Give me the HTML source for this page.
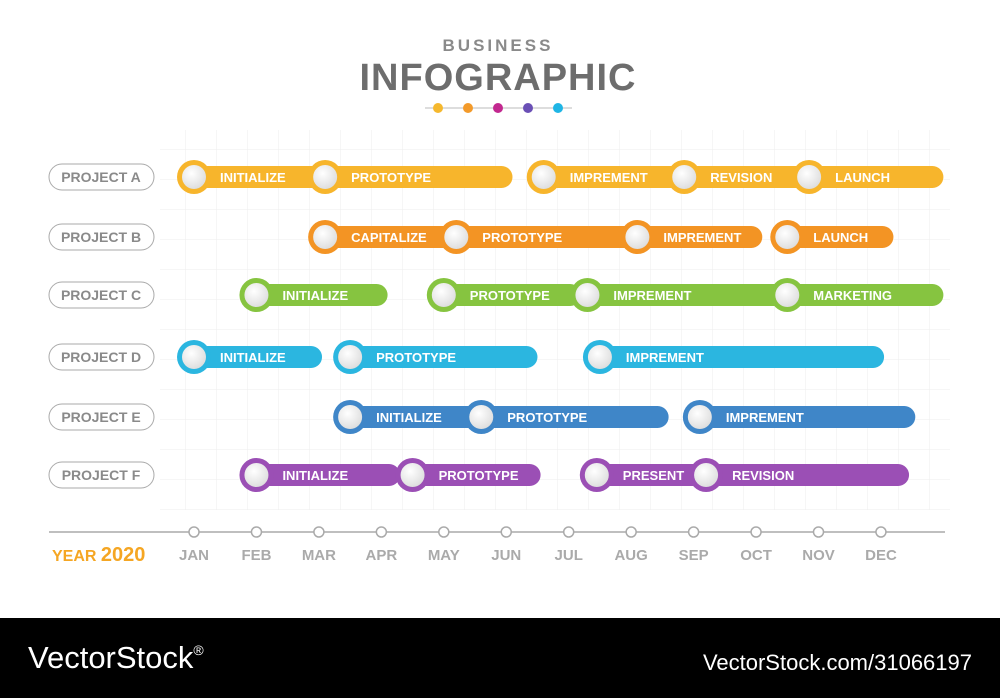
<!DOCTYPE html>
<html><head><meta charset="utf-8">
<style>
body{margin:0;width:1000px;height:698px;overflow:hidden;background:#fff;font-family:"Liberation Sans",sans-serif}
svg{display:block}
</style></head>
<body>
<svg width="1000" height="698" viewBox="0 0 1000 698">
<defs>
<radialGradient id="knob" cx="0.4" cy="0.35" r="0.7"><stop offset="0" stop-color="#ffffff"/><stop offset="1" stop-color="#dcdcdc"/></radialGradient>
<pattern id="grid" width="31" height="30" patternUnits="userSpaceOnUse" x="0" y="0"><path d="M31 0V30M0 30H31" stroke="#eeeeee" stroke-width="1" fill="none"/></pattern>
</defs>
<rect x="160" y="130" width="790" height="380" fill="url(#grid)"/>
<text x="498" y="51" text-anchor="middle" font-size="17" font-weight="bold" letter-spacing="3" fill="#8a8a8a">BUSINESS</text>
<text x="498" y="90" text-anchor="middle" font-size="38" font-weight="bold" letter-spacing="1" fill="#6d6d6d">INFOGRAPHIC</text>
<g>
<line x1="425" y1="108" x2="572" y2="108" stroke="#bbb" stroke-width="1"/>
<circle cx="438" cy="108" r="5" fill="#f5b82e"/><circle cx="468" cy="108" r="5" fill="#f39a2a"/><circle cx="498" cy="108" r="5" fill="#c2288f"/><circle cx="528" cy="108" r="5" fill="#6a4fb5"/><circle cx="558" cy="108" r="5" fill="#1fb5e5"/>
</g>
<g id="chart"></g>
<rect x="0" y="618" width="1000" height="80" fill="#000"/>
<text x="28" y="668" font-size="31" fill="#fff">VectorStock<tspan font-size="14" dy="-13">®</tspan></text>
<text x="972" y="670" text-anchor="end" font-size="22" fill="#fff">VectorStock.com/31066197</text>
</svg>
<script>
const months=["JAN","FEB","MAR","APR","MAY","JUN","JUL","AUG","SEP","OCT","NOV","DEC"];
const projects=["PROJECT A","PROJECT B","PROJECT C","PROJECT D","PROJECT E","PROJECT F"];
const colors=["#f7b52c","#f39424","#86c440","#2bb6e0","#3f86c8","#9b4fb5"];
const taskRow=[0,0,0,0,0,1,1,1,1,2,2,2,2,3,3,3,4,4,4,5,5,5,5];
const taskName=["INITIALIZE","PROTOTYPE","IMPREMENT","REVISION","LAUNCH","CAPITALIZE","PROTOTYPE","IMPREMENT","LAUNCH","INITIALIZE","PROTOTYPE","IMPREMENT","MARKETING","INITIALIZE","PROTOTYPE","IMPREMENT","INITIALIZE","PROTOTYPE","IMPREMENT","INITIALIZE","PROTOTYPE","PRESENT","REVISION"];
const taskStart=[0,2.1,5.6,7.85,9.85,2.1,4.2,7.1,9.5,1,4,6.3,9.5,0,2.5,6.5,2.5,4.6,8.1,1,3.5,6.45,8.2];
const taskEnd=[2.3,5.1,8,9.9,12,4.3,7.2,9.1,11.2,3.1,6.2,9.6,12,2.05,5.5,11.05,4.6,7.6,11.55,3.3,5.55,8.2,11.45];
const sx=m=>194+m*62.45;
const rowY=[177,237,295,357,417,475];
const ns="http://www.w3.org/2000/svg";
const g=document.getElementById('chart');
function mk(t,a){const e=document.createElementNS(ns,t);for(const k in a)e.setAttribute(k,a[k]);return e;}
projects.forEach((p,i)=>{
 const grp=mk('g',{});
 
 
 grp.appendChild(mk('rect',{x:49,y:rowY[i]-13,width:105,height:26,rx:13,fill:'#fff',stroke:'#aaa','stroke-width':1}));
 const t=mk('text',{x:101,y:rowY[i]+5,'text-anchor':'middle','font-size':14,'font-weight':'bold',fill:'#8a8a8a'});t.textContent=p;grp.appendChild(t);
 g.appendChild(grp);
});
taskName.forEach((n,i)=>{
 const y=rowY[taskRow[i]],x=sx(taskStart[i]),x2=sx(taskEnd[i]),c=colors[taskRow[i]];
 const grp=mk('g',{});
 
 
 grp.appendChild(mk('rect',{x:x,y:y-11,width:Math.max(0,x2-x),height:22,rx:11,fill:c}));
 grp.appendChild(mk('circle',{cx:x,cy:y,r:17,fill:c}));
 grp.appendChild(mk('circle',{cx:x,cy:y,r:12,fill:'url(#knob)'}));
 const t=mk('text',{x:x+26,y:y+5,'font-size':13,'font-weight':'bold',fill:'#fff'});t.textContent=n;grp.appendChild(t);
 g.appendChild(grp);
});
const ax=mk('line',{x1:49,y1:532,x2:945,y2:532,stroke:'#aaa','stroke-width':1.5});


g.appendChild(ax);
months.forEach((m,i)=>{
 const c=mk('circle',{cx:sx(i),cy:532,r:5,fill:'#fff',stroke:'#aaa','stroke-width':1.5});
 
 
 g.appendChild(c);
 const t=mk('text',{x:sx(i),y:560,'text-anchor':'middle','font-size':15,'font-weight':'bold',fill:'#aaa'});
 
 
 t.textContent=m;g.appendChild(t);
});
const yr=mk('text',{x:52,y:561,'font-size':16,'font-weight':'bold',fill:'#f5a623'});


yr.innerHTML='YEAR <tspan font-size="20">2020</tspan>';
g.appendChild(yr);
</script>
</body></html>
